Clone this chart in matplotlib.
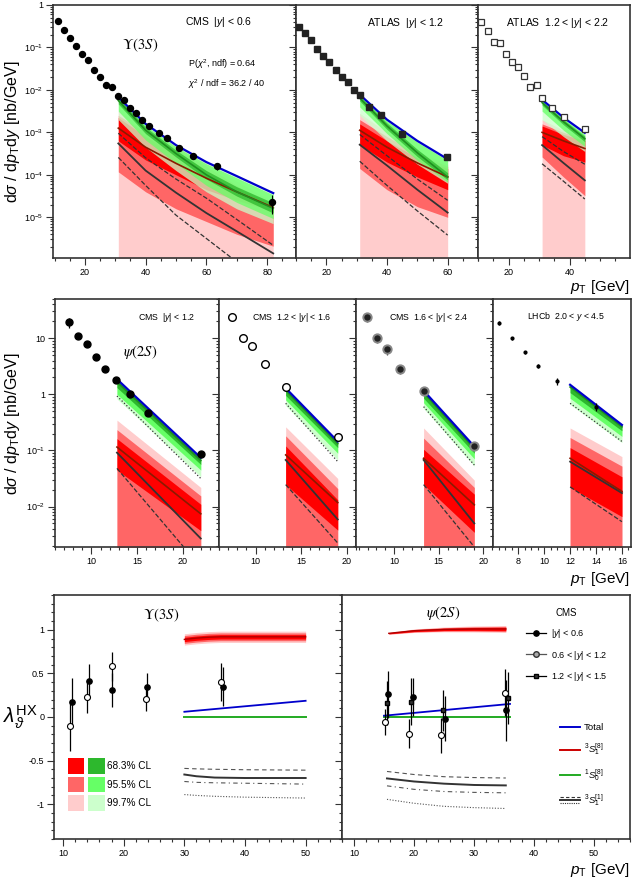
import numpy as np
import matplotlib
matplotlib.use("Agg")
import matplotlib.pyplot as plt
from matplotlib.lines import Line2D
from matplotlib.patches import Patch
from matplotlib.legend_handler import HandlerBase, HandlerTuple
from matplotlib.ticker import MultipleLocator, FuncFormatter, LogLocator, NullFormatter

plt.rcParams['font.family'] = ['Liberation Sans', 'DejaVu Sans']
plt.rcParams['mathtext.fontset'] = 'custom'
plt.rcParams['mathtext.rm'] = 'Liberation Sans'
plt.rcParams['mathtext.it'] = 'Liberation Sans:italic'
plt.rcParams['mathtext.bf'] = 'Liberation Sans:bold'
plt.rcParams['axes.unicode_minus'] = False

# ---------------- Upsilon(3S) cross sections (top row) ----------------
# model curves are given as log10 of the cross section at the nodes
u1_pt = [11, 13, 15, 17, 19, 21.1, 23.1, 25, 27, 29, 30.9, 32.9, 34.9, 36.8, 38.8, 41.2, 44.3, 47.1, 51.1, 55.7, 63.4, 81.5]
u1_sig = [0.41, 0.26, 0.17, 0.108, 0.071, 0.050, 0.030, 0.020, 0.0134, 0.0116, 0.0072, 0.0058, 0.0037, 0.0029,
          0.0020, 0.00139, 0.00096, 0.00075, 0.00043, 0.00028, 0.000161, 2.3e-5]
u1_err = [0.02, 0.01, 0.006, 0.004, 0.003, 0.002, 0.0012, 0.0008, 0.0006, 0.0005, 0.0003, 0.0003, 0.0002, 0.00015,
          0.0001, 0.00008, 0.00006, 0.00006, 0.00006, 0.00005, 0.00003, 0.000011]
u1_m = [31, 40, 50, 60, 70, 82]
u1_tot = [-2.17, -2.80, -3.30, -3.70, -4.03, -4.43]
u1_s0 = [-2.25, -2.95, -3.50, -4.00, -4.40, -4.79]
u1_g68_hi = [-2.19, -2.88, -3.42, -3.90, -4.28, -4.66]
u1_g68_lo = [-2.33, -3.03, -3.58, -4.10, -4.50, -4.90]
u1_g95_hi = [-2.20, -2.84, -3.34, -3.74, -4.07, -4.47]
u1_g95_lo = [-2.50, -3.18, -3.73, -4.25, -4.65, -5.03]
u1_g997_lo = [-2.70, -3.35, -3.90, -4.40, -4.80, -5.15]
u1_s8 = [-2.90, -3.35, -3.73, -4.08, -4.40, -4.77]
u1_r68_hi = [-2.65, -3.10, -3.50, -3.90, -4.30, -4.70]
u1_r68_lo = [-3.20, -3.65, -4.00, -4.35, -4.60, -4.85]
u1_r95_hi = [-2.60, -3.00, -3.40, -3.80, -4.25, -4.75]
u1_r95_lo = [-3.93, -4.40, -4.80, -5.10, -5.40, -5.68]
u1_r997_hi = [-2.50, -2.90, -3.30, -3.70, -4.15, -4.65]
u1_cs = [-3.26, -3.90, -4.42, -4.90, -5.33, -5.85]
u1_csup = [-3.02, -3.60, -4.10, -4.55, -5.05, -5.66]
u1_csdn = [-3.59, -4.25, -4.95, -5.50, -6.05, -6.60]

u2_pt = [10.9, 13, 15, 16.9, 19, 21, 23.1, 25, 27, 29, 31, 34, 37.9, 44.9, 59.9]
u2_sig = [0.31, 0.22, 0.148, 0.094, 0.063, 0.045, 0.029, 0.020, 0.0155, 0.0098, 0.0074, 0.0040, 0.0025, 0.00091, 0.00026]
u2_err = [0.01, 0.008, 0.005, 0.003, 0.002, 0.0015, 0.001, 0.0007, 0.0005, 0.0003, 0.0003, 0.0002, 0.0001, 0.00006, 0.00003]
u2_m = [31, 40, 50, 60]
u2_tot = [-2.11, -2.70, -3.20, -3.63]
u2_s0 = [-2.19, -2.85, -3.48, -4.05]
u2_g68_hi = [-2.14, -2.78, -3.40, -3.95]
u2_g68_lo = [-2.26, -2.93, -3.57, -4.12]
u2_g95_hi = [-2.14, -2.73, -3.23, -3.66]
u2_g95_lo = [-2.40, -3.03, -3.66, -4.17]
u2_g997_lo = [-2.60, -3.20, -3.75, -4.20]
u2_s8 = [-2.95, -3.35, -3.72, -4.05]
u2_r68_hi = [-2.80, -3.20, -3.60, -3.85]
u2_r68_lo = [-3.30, -3.70, -4.05, -4.35]
u2_r95_hi = [-2.70, -3.10, -3.50, -3.80]
u2_r95_lo = [-3.85, -4.35, -4.75, -5.00]
u2_r997_hi = [-2.55, -3.00, -3.45, -3.75]
u2_cs = [-3.29, -3.78, -4.35, -4.89]
u2_csup = [-3.05, -3.55, -4.10, -4.60]
u2_csdn = [-3.68, -4.25, -4.85, -5.42]

u3_pt = [11.1, 13.2, 15.2, 17.1, 19.2, 21.2, 23.2, 25.1, 27.1, 29.2, 31.1, 34.2, 38.1, 44.9]
u3_sig = [0.40, 0.24, 0.138, 0.129, 0.072, 0.045, 0.035, 0.021, 0.012, 0.0132, 0.0063, 0.0037, 0.0023, 0.00117]
u3_err = [0.02, 0.01, 0.007, 0.007, 0.004, 0.003, 0.002, 0.0013, 0.0008, 0.0013, 0.0007, 0.0004, 0.0003, 0.00015]
u3_m = [31, 38, 45]
u3_tot = [-2.23, -2.65, -3.01]
u3_s0 = [-2.30, -2.75, -3.15]
u3_g68_hi = [-2.26, -2.70, -3.09]
u3_g68_lo = [-2.36, -2.82, -3.22]
u3_g95_hi = [-2.26, -2.68, -3.05]
u3_g95_lo = [-2.50, -2.95, -3.33]
u3_g997_lo = [-2.70, -3.10, -3.45]
u3_s8 = [-3.00, -3.20, -3.38]
u3_r68_hi = [-2.85, -3.05, -3.20]
u3_r68_lo = [-3.30, -3.55, -3.70]
u3_r95_hi = [-2.80, -3.00, -3.15]
u3_r95_lo = [-3.58, -4.05, -4.49]
u3_r997_hi = [-2.70, -2.95, -3.10]
u3_cs = [-3.30, -3.72, -4.13]
u3_csup = [-3.10, -3.45, -3.75]
u3_csdn = [-3.74, -4.15, -4.57]

# ---------------- psi(2S) cross sections (middle row) ----------------
p1_pt = [7.5, 8.5, 9.5, 10.5, 11.5, 12.75, 14.25, 16.25, 22.0]
p1_sig = [19.3, 11.0, 7.9, 4.7, 2.8, 1.8, 1.0, 0.47, 0.085]
p1_err = [4.0, 0.8, 0.5, 0.3, 0.25, 0.1, 0.08, 0.04, 0.008]
p1_m = [12.8, 22.0]
p1_tot = [0.27, -1.13]
p1_s0 = [0.22, -1.18]
p1_g68 = [0.12, -1.25]
p1_g95 = [0.00, -1.35]
p1_g997 = [-0.08, -1.47]
p1_dot = [-0.03, -1.50]
p1_r997_hi = [-0.46, -1.66]
p1_r95_hi = [-0.63, -1.81]
p1_r68_hi = [-0.79, -1.96]
p1_r68_lo = [-1.35, -2.43]
p1_s8 = [-0.94, -2.13]
p1_cs = [-1.04, -2.57]
p1_csdn = [-1.32, -3.08]

p2_pt = [7.4, 8.6, 9.6, 11.0, 13.3, 19.05]
p2_sig = [24.3, 10.0, 7.4, 3.5, 1.37, 0.17]
p2_err = [3.0, 1.5, 1.2, 0.4, 0.15, 0.015]
p2_m = [13.3, 19.0]
p2_tot = [0.11, -0.84]
p2_s0 = [0.07, -0.88]
p2_g68 = [-0.02, -0.95]
p2_g95 = [-0.10, -1.05]
p2_g997 = [-0.20, -1.17]
p2_dot = [-0.16, -1.20]
p2_r997_hi = [-0.58, -1.50]
p2_r95_hi = [-0.74, -1.68]
p2_r68_hi = [-0.92, -1.88]
p2_r68_lo = [-1.61, -2.42]
p2_s8 = [-1.08, -1.93]
p2_cs = [-1.17, -2.23]
p2_csdn = [-1.61, -2.65]

p3_pt = [6.9, 8.1, 9.2, 10.6, 13.3, 19.0]
p3_sig = [23.7, 10.0, 6.3, 2.8, 1.16, 0.12]
p3_err = [4.0, 1.8, 1.2, 0.5, 0.15, 0.015]
p3_m = [13.3, 19.0]
p3_tot = [0.066, -0.93]
p3_s0 = [0.03, -0.97]
p3_g68 = [-0.07, -1.05]
p3_g95 = [-0.15, -1.15]
p3_g997 = [-0.25, -1.28]
p3_dot = [-0.22, -1.26]
p3_r997_hi = [-0.60, -1.53]
p3_r95_hi = [-0.78, -1.66]
p3_r68_hi = [-0.98, -1.78]
p3_r68_lo = [-1.61, -2.46]
p3_s8 = [-1.14, -1.97]
p3_cs = [-1.17, -2.30]
p3_csdn = [-1.61, -2.72]

p4_pt = [6.5, 7.5, 8.5, 9.5, 11.0, 14.0]
p4_sig = [18.5, 10.0, 5.6, 3.2, 1.73, 0.60]
p4_err = [1.5, 0.7, 0.4, 0.25, 0.25, 0.1]
p4_m = [12.0, 16.0]
p4_tot = [0.17, -0.545]
p4_s0 = [0.13, -0.58]
p4_g68 = [0.03, -0.65]
p4_g95 = [-0.07, -0.75]
p4_g997 = [-0.18, -0.86]
p4_dot = [-0.16, -0.84]
p4_r997_hi = [-0.60, -1.11]
p4_r95_hi = [-0.77, -1.28]
p4_r68_hi = [-0.95, -1.47]
p4_r68_lo = [-1.66, -2.18]
p4_s8 = [-1.14, -1.73]
p4_cs = [-1.20, -1.76]
p4_csdn = [-1.65, -2.27]

# ---------------- polarizations (bottom row) ----------------
lu_open_pt = [11.1, 13.9, 18.0, 23.7, 36.1]
lu_open = [-0.10, 0.23, 0.58, 0.21, 0.40]
lu_open_err = [0.29, 0.18, 0.17, 0.14, 0.22]
lu_fill_pt = [11.4, 14.2, 18.1, 23.9, 36.3]
lu_fill = [0.17, 0.41, 0.31, 0.35, 0.35]
lu_fill_err = [0.28, 0.20, 0.20, 0.15, 0.22]
lu_m_red = [30, 32, 34, 36, 40, 50]
lu_red = [0.89, 0.905, 0.915, 0.92, 0.92, 0.92]
lu_w68 = [0.025, 0.025, 0.025, 0.025, 0.025, 0.025]
lu_w95 = [0.045, 0.045, 0.045, 0.045, 0.045, 0.045]
lu_w997 = [0.065, 0.065, 0.065, 0.065, 0.065, 0.065]
lu_m_line = [30, 50]
lu_blue = [0.06, 0.186]
lu_green = [0.0, 0.0]
lu_m_k = [30, 32, 35, 40, 50]
lu_k_dash = [-0.59, -0.595, -0.60, -0.605, -0.61]
lu_k_solid = [-0.66, -0.68, -0.695, -0.70, -0.70]
lu_k_dashdot = [-0.74, -0.75, -0.755, -0.76, -0.77]
lu_k_dot = [-0.89, -0.90, -0.91, -0.92, -0.93]

lp_open_pt = [15.1, 19.2, 24.5, 35.1]
lp_open = [-0.06, -0.19, -0.21, 0.28]
lp_open_err = [0.15, 0.17, 0.20, 0.27]
lp_fill_pt = [15.7, 19.8, 25.2, 35.4]
lp_fill = [0.26, 0.23, -0.02, 0.08]
lp_fill_err = [0.27, 0.22, 0.26, 0.35]
lp_star_pt = [15.45, 19.45, 24.9, 35.7]
lp_star = [0.16, 0.175, 0.075, 0.22]
lp_star_err = [0.25, 0.27, 0.24, 0.30]
lp_m_red = [15.8, 20, 25, 30, 35.3]
lp_red = [0.96, 0.99, 1.005, 1.01, 1.01]
lp_w68 = [0.005, 0.010, 0.013, 0.016, 0.018]
lp_w95 = [0.008, 0.015, 0.020, 0.025, 0.030]
lp_w997 = [0.012, 0.020, 0.028, 0.035, 0.040]
lp_m_line = [15, 36]
lp_blue = [0.015, 0.15]
lp_green = [0.0, 0.0]
lp_m_k = [15.5, 20, 25, 30, 35.3]
lp_k_dash = [-0.625, -0.66, -0.685, -0.695, -0.70]
lp_k_solid = [-0.705, -0.74, -0.765, -0.78, -0.785]
lp_k_dashdot = [-0.79, -0.83, -0.855, -0.865, -0.87]
lp_k_dot = [-0.945, -0.99, -1.025, -1.04, -1.05]

RED = ['#ff0000', '#ff6666', '#ffcccc']
GREEN = ['#2db82d', '#66ff66', '#ccffcc']
BLUE = '#0000cc'
DARKRED = '#8b1a00'
GREY = '#333333'
FLOOR = 1e-9
W, H = 639.0, 882.0

fig = plt.figure(figsize=(6.39, 8.82), dpi=100)


def add_ax(x0, x1, y0, y1):
    return fig.add_axes([x0 / W, 1 - y1 / H, (x1 - x0) / W, (y1 - y0) / H])


def lg(v):
    return 10.0 ** np.asarray(v, float)


def logfmt(v, pos):
    e = int(round(np.log10(v)))
    if e == 0:
        return '1'
    if e == 1:
        return '10'
    return r'$10^{%d}$' % e


def style(ax, ylabels=True, log=False):
    for s in ax.spines.values():
        s.set_color(GREY)
        s.set_linewidth(1.2)
    ax.tick_params(which='both', direction='out', color=GREY, labelsize=6.5, width=0.8, pad=2)
    ax.tick_params(which='major', length=5)
    ax.tick_params(which='minor', length=2.5)
    if log:
        ax.set_yscale('log')
        ax.yaxis.set_major_locator(LogLocator(base=10, numticks=20))
        ax.yaxis.set_minor_locator(LogLocator(base=10, subs=np.arange(2, 10) * 1.0, numticks=100))
        ax.yaxis.set_major_formatter(FuncFormatter(logfmt))
        ax.yaxis.set_minor_formatter(NullFormatter())
    if not ylabels:
        ax.tick_params(axis='y', labelleft=False)


def draw_xsec(ax, m, tot, s0, greens, r997_hi, r95_hi, r95_lo, r68_hi, r68_lo, s8, blacks, galpha):
    m = np.asarray(m, float)
    bot = np.full_like(m, FLOOR)
    ax.fill_between(m, bot, lg(r997_hi), color=RED[2], lw=0)
    lo95 = bot if r95_lo is None else lg(r95_lo)
    ax.fill_between(m, lo95, lg(r95_hi), color=RED[1], lw=0)
    ax.fill_between(m, lg(r68_lo), lg(r68_hi), color=RED[0], lw=0)
    for lo, hi, c in greens:
        ax.fill_between(m, lg(lo), lg(hi), color=c, alpha=galpha, lw=0)
    for vals, ls in blacks:
        ax.plot(m, lg(vals), color=GREY, ls=ls, lw=1.3 if ls == '-' else 0.9)
    ax.plot(m, lg(s8), color=DARKRED, lw=1.2)
    ax.plot(m, lg(s0), color='#1f8f1f', lw=1.2)
    ax.plot(m, lg(tot), color=BLUE, lw=1.6)


def state_label(ax, x, y, s):
    ax.text(x, y, s, transform=ax.transAxes, fontsize=10.5, va='center', ha='center', math_fontfamily='stix')


# ---------------- top row ----------------
axu1 = add_ax(53, 296, 5, 258)
axu2 = add_ax(296, 478, 5, 258)
axu3 = add_ax(478, 630, 5, 258)

draw_xsec(axu1, u1_m, u1_tot, u1_s0,
          [(u1_g997_lo, u1_tot, GREEN[2]), (u1_g95_lo, u1_g95_hi, GREEN[1]), (u1_g68_lo, u1_g68_hi, GREEN[0])],
          u1_r997_hi, u1_r95_hi, u1_r95_lo, u1_r68_hi, u1_r68_lo, u1_s8,
          [(u1_cs, '-'), (u1_csup, '--'), (u1_csdn, '--')], 0.75)
draw_xsec(axu2, u2_m, u2_tot, u2_s0,
          [(u2_g997_lo, u2_tot, GREEN[2]), (u2_g95_lo, u2_g95_hi, GREEN[1]), (u2_g68_lo, u2_g68_hi, GREEN[0])],
          u2_r997_hi, u2_r95_hi, u2_r95_lo, u2_r68_hi, u2_r68_lo, u2_s8,
          [(u2_cs, '-'), (u2_csup, '--'), (u2_csdn, '--')], 0.75)
draw_xsec(axu3, u3_m, u3_tot, u3_s0,
          [(u3_g997_lo, u3_tot, GREEN[2]), (u3_g95_lo, u3_g95_hi, GREEN[1]), (u3_g68_lo, u3_g68_hi, GREEN[0])],
          u3_r997_hi, u3_r95_hi, u3_r95_lo, u3_r68_hi, u3_r68_lo, u3_s8,
          [(u3_cs, '-'), (u3_csup, '--'), (u3_csdn, '--')], 0.75)

axu1.errorbar(u1_pt, u1_sig, yerr=u1_err, fmt='o', ms=4.3, color='black', elinewidth=0.8, capsize=0, zorder=5)
axu2.errorbar(u2_pt, u2_sig, yerr=u2_err, fmt='s', ms=4.0, color='#222222', elinewidth=0.8, capsize=0, zorder=5)
axu3.errorbar(u3_pt, u3_sig, yerr=u3_err, fmt='s', ms=4.0, mfc='white', mec='#333333', mew=0.9,
              color='#333333', elinewidth=0.8, capsize=0, zorder=5)

for ax, xl in ((axu1, (9.5, 89.5)), (axu2, (10, 70)), (axu3, (10, 59.8))):
    style(ax, ylabels=(ax is axu1), log=True)
    ax.set_xlim(*xl)
    ax.set_ylim(1.1e-6, 1)
    ax.xaxis.set_major_locator(MultipleLocator(20))
    ax.xaxis.set_minor_locator(MultipleLocator(5))

axu1.text(0.545, 0.933, 'CMS  |$y$| < 0.6', transform=axu1.transAxes, fontsize=7.5, va='center')
state_label(axu1, 0.36, 0.842, r'$\Upsilon(3S)$')
axu1.text(0.556, 0.767, r'P($\chi^2$, ndf) = 0.64', transform=axu1.transAxes, fontsize=6.5, va='center')
axu1.text(0.556, 0.688, r'$\chi^2$ / ndf = 36.2 / 40', transform=axu1.transAxes, fontsize=6.5, va='center')
axu2.text(0.388, 0.93, 'ATLAS  |$y$| < 1.2', transform=axu2.transAxes, fontsize=7.5, va='center')
axu3.text(0.184, 0.93, 'ATLAS  1.2 < |$y$| < 2.2', transform=axu3.transAxes, fontsize=7.5, va='center')

# ---------------- middle row ----------------
axp1 = add_ax(55, 219, 299, 547)
axp2 = add_ax(219, 356, 299, 547)
axp3 = add_ax(356, 493, 299, 547)
axp4 = add_ax(493, 631, 299, 547)

for ax, m, tot, s0, g68, g95, g997, r997, r95, r68h, r68l, s8, dot, cs, csdn in (
        (axp1, p1_m, p1_tot, p1_s0, p1_g68, p1_g95, p1_g997, p1_r997_hi, p1_r95_hi, p1_r68_hi, p1_r68_lo,
         p1_s8, p1_dot, p1_cs, p1_csdn),
        (axp2, p2_m, p2_tot, p2_s0, p2_g68, p2_g95, p2_g997, p2_r997_hi, p2_r95_hi, p2_r68_hi, p2_r68_lo,
         p2_s8, p2_dot, p2_cs, p2_csdn),
        (axp3, p3_m, p3_tot, p3_s0, p3_g68, p3_g95, p3_g997, p3_r997_hi, p3_r95_hi, p3_r68_hi, p3_r68_lo,
         p3_s8, p3_dot, p3_cs, p3_csdn),
        (axp4, p4_m, p4_tot, p4_s0, p4_g68, p4_g95, p4_g997, p4_r997_hi, p4_r95_hi, p4_r68_hi, p4_r68_lo,
         p4_s8, p4_dot, p4_cs, p4_csdn)):
    draw_xsec(ax, m, tot, s0, [(g997, tot, GREEN[2]), (g95, tot, GREEN[1]), (g68, tot, GREEN[0])],
              r997, r95, None, r68h, r68l, s8, [(dot, ':'), (cs, '-'), (csdn, '--')], 1.0)

axp1.errorbar(p1_pt, p1_sig, yerr=p1_err, fmt='o', ms=5, color='black', elinewidth=0.9, capsize=0, zorder=5)
axp2.errorbar(p2_pt, p2_sig, yerr=p2_err, fmt='o', ms=5.5, mfc='white', mec='black', mew=1.0,
              color='black', elinewidth=0.9, capsize=0, zorder=5)
axp3.errorbar(p3_pt, p3_sig, yerr=p3_err, fmt='o', ms=6, mfc='#222222', mec='#888888', mew=1.4,
              color='#444444', elinewidth=0.9, capsize=0, zorder=5)
axp4.errorbar(p4_pt, p4_sig, yerr=p4_err, fmt='o', ms=2, color='black', elinewidth=0.9, capsize=0, zorder=5)

for ax, xl in ((axp1, (6, 24)), (axp2, (6, 21)), (axp3, (5.7, 21.1)), (axp4, (6.05, 16.7))):
    style(ax, ylabels=(ax is axp1), log=True)
    ax.set_xlim(*xl)
    ax.set_ylim(0.0019, 50)
    if ax is axp4:
        ax.xaxis.set_major_locator(MultipleLocator(2))
        ax.xaxis.set_minor_locator(MultipleLocator(0.5))
    else:
        ax.xaxis.set_major_locator(MultipleLocator(5))
        ax.xaxis.set_minor_locator(MultipleLocator(1))

axp1.text(0.506, 0.927, 'CMS  |$y$| < 1.2', transform=axp1.transAxes, fontsize=6.3, va='center')
state_label(axp1, 0.52, 0.788, r'$\psi(2S)$')
axp2.text(0.24, 0.927, 'CMS  1.2 < |$y$| < 1.6', transform=axp2.transAxes, fontsize=6.3, va='center')
axp3.text(0.24, 0.927, 'CMS  1.6 < |$y$| < 2.4', transform=axp3.transAxes, fontsize=6.3, va='center')
axp4.text(0.246, 0.93, 'LHCb  2.0 < $y$ < 4.5', transform=axp4.transAxes, fontsize=6.3, va='center')

# ---------------- bottom row ----------------
axl1 = add_ax(54, 342, 595, 839)
axl2 = add_ax(342, 630, 595, 839)


def draw_lam(ax, m_red, red, w68, w95, w997, m_line, blue, green, m_k, k_dash, k_solid, k_dashdot, k_dot):
    red = np.asarray(red)
    for w, c in ((w997, RED[2]), (w95, RED[1]), (w68, RED[0])):
        ax.fill_between(m_red, red - np.asarray(w), red + np.asarray(w), color=c, lw=0)
    ax.plot(m_red, red, color='#b00000', lw=1.0)
    ax.plot(m_line, green, color='#22aa22', lw=1.4)
    ax.plot(m_line, blue, color=BLUE, lw=1.3)
    ax.plot(m_k, k_dash, color='#555555', ls=(0, (4, 3)), lw=0.8)
    ax.plot(m_k, k_solid, color=GREY, ls='-', lw=1.4)
    ax.plot(m_k, k_dashdot, color='#555555', ls=(0, (4, 3, 1, 3)), lw=0.8)
    ax.plot(m_k, k_dot, color='#555555', ls=(0, (1, 1.5)), lw=0.8)


draw_lam(axl1, lu_m_red, lu_red, lu_w68, lu_w95, lu_w997, lu_m_line, lu_blue, lu_green,
         lu_m_k, lu_k_dash, lu_k_solid, lu_k_dashdot, lu_k_dot)
draw_lam(axl2, lp_m_red, lp_red, lp_w68, lp_w95, lp_w997, lp_m_line, lp_blue, lp_green,
         lp_m_k, lp_k_dash, lp_k_solid, lp_k_dashdot, lp_k_dot)

eb = dict(capsize=0, elinewidth=0.9, color='black', zorder=5)
axl1.errorbar(lu_fill_pt, lu_fill, yerr=lu_fill_err, fmt='o', ms=3.8, **eb)
axl1.errorbar(lu_open_pt, lu_open, yerr=lu_open_err, fmt='o', ms=4.3, mfc='white', mec='black', mew=0.8, **eb)
axl2.errorbar(lp_fill_pt, lp_fill, yerr=lp_fill_err, fmt='o', ms=3.8, **eb)
axl2.errorbar(lp_open_pt, lp_open, yerr=lp_open_err, fmt='o', ms=4.3, mfc='white', mec='black', mew=0.8, **eb)
axl2.errorbar(lp_star_pt, lp_star, yerr=lp_star_err, fmt='s', ms=3.0, mfc='#333333', mec='black', **eb)

for ax, xl in ((axl1, (8.5, 56)), (axl2, (8, 56))):
    style(ax, ylabels=(ax is axl1))
    ax.set_xlim(*xl)
    ax.set_ylim(-1.4, 1.4)
    ax.xaxis.set_major_locator(MultipleLocator(10))
    ax.xaxis.set_minor_locator(MultipleLocator(2))
    ax.yaxis.set_major_locator(MultipleLocator(0.5))
    ax.yaxis.set_minor_locator(MultipleLocator(0.1))
    ax.yaxis.set_major_formatter(FuncFormatter(lambda v, p: '%g' % v))

state_label(axl1, 0.372, 0.918, r'$\Upsilon(3S)$')
state_label(axl2, 0.351, 0.926, r'$\psi(2S)$')

# confidence level legend
cl_handles = [(Patch(facecolor=RED[i], edgecolor='none'), Patch(facecolor=GREEN[i], edgecolor='none'))
              for i in range(3)]
axl1.legend(cl_handles, ['68.3% CL', '95.5% CL', '99.7% CL'],
            handler_map={tuple: HandlerTuple(ndivide=None, pad=0.4)},
            loc='upper left', bbox_to_anchor=(0.048, 0.33), frameon=False, fontsize=7.2,
            handlelength=3.7, handleheight=2.0, labelspacing=0.3, handletextpad=0.25,
            borderpad=0, borderaxespad=0)

# data legend
data_handles = [
    Line2D([], [], color='black', marker='o', ms=3.8, lw=0.9),
    Line2D([], [], color='#555555', marker='o', ms=4, mfc='#aaaaaa', mec='#333333', lw=0.9),
    Line2D([], [], color='black', marker='s', ms=3, mfc='#333333', lw=0.9),
]
leg1 = axl2.legend(data_handles, ['|$y$| < 0.6', '0.6 < |$y$| < 1.2', '1.2 < |$y$| < 1.5'],
                   title='CMS', title_fontsize=7, loc='upper left', bbox_to_anchor=(0.64, 0.945),
                   frameon=False, fontsize=6.5, handlelength=2.2, handletextpad=0.5, labelspacing=0.95,
                   borderpad=0, borderaxespad=0)
axl2.add_artist(leg1)


class StackHandler(HandlerBase):
    def create_artists(self, legend, orig, x0, y0, width, height, fontsize, trans):
        arts = []
        for i, ls in enumerate([(0, (3, 2)), '-', (0, (1, 1))]):
            y = y0 + height * (1.0 - 0.45 * i)
            arts.append(Line2D([x0, x0 + width], [y, y], ls=ls, color=GREY,
                               lw=1.4 if ls == '-' else 0.8, transform=trans))
        return arts


cs_key = object()
model_handles = [
    Line2D([], [], color=BLUE, lw=1.4),
    Line2D([], [], color='#cc0000', lw=1.4),
    Line2D([], [], color='#22aa22', lw=1.4),
    cs_key,
]
axl2.legend(model_handles, ['Total', r'${}^{3}S_{1}^{[8]}$', r'${}^{1}S_{0}^{[8]}$', r'${}^{3}S_{1}^{[1]}$'],
            handler_map={cs_key: StackHandler()}, loc='upper left', bbox_to_anchor=(0.757, 0.475),
            frameon=False, fontsize=6.8, handlelength=2.1, handletextpad=0.45, labelspacing=1.0,
            borderpad=0, borderaxespad=0)

# ---------------- axis titles ----------------
ylab = r'd$\sigma$ / d$p_{\rm T}$d$y$ [nb/GeV]'
fig.text(13 / W, 0.851, ylab, rotation=90, fontsize=11.5, ha='center', va='center')
fig.text(13 / W, 0.520, ylab, rotation=90, fontsize=11.5, ha='center', va='center')
fig.text(20 / W, 1 - 717 / H, r'$\lambda_{\vartheta}^{\rm HX}$', fontsize=15, ha='center', va='center')
for yy in (287, 579, 870):
    fig.text(630 / W, 1 - yy / H, r'$p_{\rm T}$ [GeV]', fontsize=11, ha='right', va='center')

fig.savefig('out.png', dpi=100)
